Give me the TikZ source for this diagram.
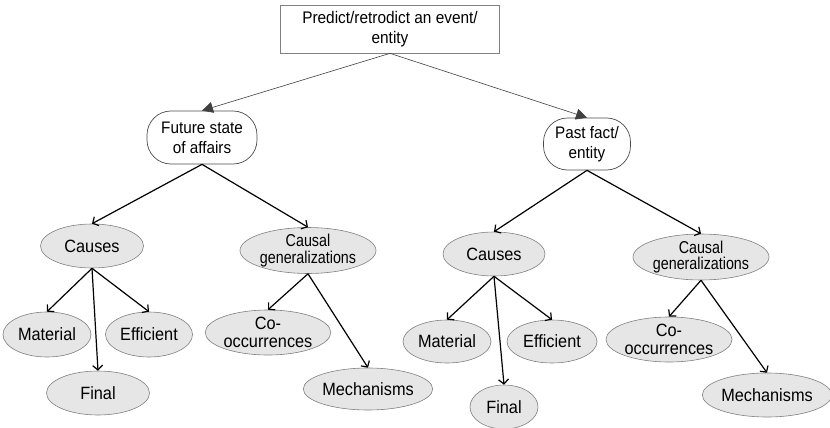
\documentclass[tikz,border=0pt]{standalone}
\usepackage{fontspec}
\usepackage{graphicx}
\setmainfont{Liberation Sans}
\usetikzlibrary{shapes.geometric,arrows.meta}
\definecolor{ellfill}{HTML}{E6E6E6}
\definecolor{ellline}{HTML}{808080}
\newcommand{\vst}[1]{\scalebox{1}[1.09]{#1}}
\newcommand{\vsg}[1]{\scalebox{1}[1.2]{#1}}
\tikzset{
  ell/.style={ellipse, draw=ellline, line width=0.6pt, fill=ellfill, inner sep=0pt, align=center,
    font=\fontsize{16.3}{19}\selectfont},
  cgell/.style={ell, font=\fontsize{14.3}{16.5}\selectfont},
  coell/.style={ell, font=\fontsize{16.3}{18}\selectfont},
  topbox/.style={rectangle, draw=ellline, line width=0.7pt, fill=white, inner sep=0pt, align=center,
    font=\fontsize{15.4}{20}\selectfont},
  rbox/.style={rectangle, rounded corners=24pt, draw=black!70, line width=0.7pt, fill=white, inner sep=0pt, align=center,
    font=\fontsize{15.3}{20}\selectfont},
  thinarrow/.style={draw=black!75, line width=0.6pt, -{Triangle[length=11pt,width=11pt]}},
  conn/.style={draw=black, line width=1.2pt, -{Straight Barb[length=4.5pt,width=10pt]}}
}
\begin{document}
\begin{tikzpicture}[x=1pt,y=-1pt]
\useasboundingbox (0,0) rectangle (830,428);
\node[topbox, minimum width=219pt, minimum height=48pt] (top) at (390,29) {\vst{Predict/retrodict an event/}\\\vst{entity}};
\node[rbox, minimum width=110pt, minimum height=53pt] (fut) at (202,137.5) {\vst{Future state}\\\vst{of affairs}};
\node[rbox, minimum width=87pt, minimum height=52pt] (past) at (587,144) {\vst{Past fact/}\\\vst{entity}};

\node[ell, minimum width=103pt, minimum height=44pt] (causesL) at (92,246) {\vst{Causes}};
\node[cgell, minimum width=131pt, minimum height=45pt] (cgL) at (308,250.5) {\vsg{Causal}\\\vsg{generalizations}};
\node[ell, minimum width=88pt, minimum height=45pt] (matL) at (47,334.5) {\vst{Material}};
\node[ell, minimum width=87pt, minimum height=45pt] (effL) at (149,334.5) {\vst{Efficient}};
\node[ell, minimum width=103pt, minimum height=44pt] (finL) at (98,393) {\vst{Final}};
\node[coell, minimum width=125pt, minimum height=45pt] (coL) at (268,332.5) {\vst{Co-}\\\vst{occurrences}};
\node[ell, minimum width=127pt, minimum height=42pt] (mechL) at (368,389) {\vst{Mechanisms}};

\node[ell, minimum width=102pt, minimum height=44pt] (causesR) at (494,254) {\vst{Causes}};
\node[cgell, minimum width=132pt, minimum height=44pt] (cgR) at (701,257) {\vsg{Causal}\\\vsg{generalizations}};
\node[ell, minimum width=88pt, minimum height=43pt] (matR) at (447,341.5) {\vst{Material}};
\node[ell, minimum width=90pt, minimum height=43pt] (effR) at (552,341.5) {\vst{Efficient}};
\node[ell, minimum width=68pt, minimum height=44pt] (finR) at (504,407) {\vst{Final}};
\node[coell, minimum width=126pt, minimum height=45pt] (coR) at (669,339.5) {\vst{Co-}\\\vst{occurrences}};
\node[ell, minimum width=125pt, minimum height=44pt] (mechR) at (767,395) {\vst{Mechanisms}};

\draw[thinarrow] (top.south) -- (fut.north);
\draw[thinarrow] (top.south) -- (past.north);

\draw[conn] (fut.south) -- (causesL.north);
\draw[conn] (fut.south) -- (cgL.north);
\draw[conn] (causesL.south) -- (matL.north);
\draw[conn] (causesL.south) -- (finL.north);
\draw[conn] (causesL.south) -- (effL.north);
\draw[conn] (cgL.south) -- (coL.north);
\draw[conn] (cgL.south) -- (mechL.north);

\draw[conn] (past.south) -- (causesR.north);
\draw[conn] (past.south) -- (cgR.north);
\draw[conn] (causesR.south) -- (matR.north);
\draw[conn] (causesR.south) -- (finR.north);
\draw[conn] (causesR.south) -- (effR.north);
\draw[conn] (cgR.south) -- (coR.north);
\draw[conn] (cgR.south) -- (mechR.north);
\end{tikzpicture}
\end{document}
